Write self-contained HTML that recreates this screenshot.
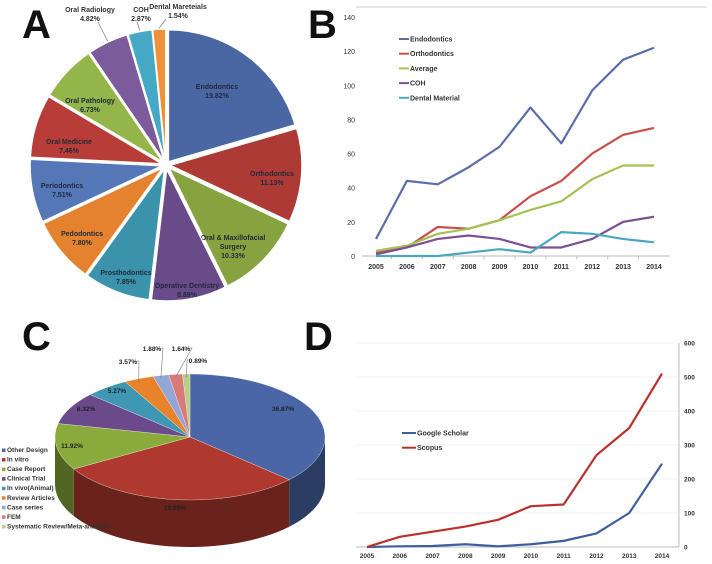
<!DOCTYPE html>
<html><head><meta charset="utf-8"><style>
body{margin:0;background:#fff;}
svg{display:block;font-family:"Liberation Sans",sans-serif;}
</style></head><body>
<svg id="fig" width="712" height="564" viewBox="0 0 712 564" xmlns="http://www.w3.org/2000/svg">
<g font-weight="bold" font-size="40" fill="#111">
<text x="22" y="38">A</text>
<text x="308" y="38">B</text>
<text x="22" y="350">C</text>
<text x="304" y="350">D</text>
</g>
<g id="pa"></g>
<g id="pb"></g>
<g id="pc"></g>
<g id="pd"></g>
</svg>
<script>
const NS="http://www.w3.org/2000/svg";
function mk(tag,attrs,parent,txt){const e=document.createElementNS(NS,tag);for(const k in attrs)e.setAttribute(k,attrs[k]);if(txt!==undefined)e.textContent=txt;parent.appendChild(e);return e;}

// ---------- Panel A data ----------
const aLabels=["Endodontics","Orthodontics","Oral & Maxillofacial Surgery","Operative Dentistry","Prosthodontics","Pedodontics","Periodontics","Oral Medicine","Oral Pathology","Oral Radiology","COH","Dental Mareteials"];
const aValues=[19.82,11.13,10.33,8.89,7.85,7.80,7.51,7.46,6.73,4.82,2.87,1.54];
const aColors=["#4a67a3","#ad3a35","#86a33f","#6a4b8a","#3a93ab","#e4822f","#5577b8","#b83c38","#93b54a","#7c5b9c","#45a9c6","#ef9138"];

// ---------- Panel B data ----------
const years=["2005","2006","2007","2008","2009","2010","2011","2012","2013","2014"];
const bTicks=[0,20,40,60,80,100,120,140];
const bNames=["Endodontics","Orthodontics","Average","COH","Dental Material"];
const bEndo=[10,44,42,52,64,87,66,97,115,122];
const bOrtho=[2,5,17,16,21,35,44,60,71,75];
const bAvg=[3,6,13,16,21,27,32,45,53,53];
const bCOH=[1,5,10,12,10,5,5,10,20,23];
const bDental=[0,0,0,2,4,2,14,13,10,8];
const bColors=["#5a6fa8","#c8504c","#a5c254","#7d4f93","#4aa7bd"];

// ---------- Panel C data ----------
const cLabels=["Other Design","In vitro","Case Report","Clinical Trial","In vivo(Animal)","Review Articles","Case series","FEM","Systematic Review/Meta-analysis"];
const cValues=[36.87,29.65,11.92,8.32,5.27,3.57,1.88,1.64,0.89];
const cColors=["#4a66a6","#b0392f","#8aab3c","#6b4a8c","#3e98b3","#e8832c","#93a7d6","#d97a78","#b6d08a"];

// ---------- Panel D data ----------
const dTicks=[0,100,200,300,400,500,600];
const dScholar=[0,2,3,8,2,8,18,40,100,245];
const dScopus=[0,30,45,60,80,120,125,270,350,510];

// ---------- Draw A ----------
(function(){
  const g=document.getElementById('pa');
  const cx=166,cy=165,r=132,ex=4;
  const tot=aValues.reduce((a,b)=>a+b,0);
  let a0=0;
  const lblPos=[[217,83],[272,170],[233,234],[187,282],[126,269],[82,230],[62,182],[69,138],[90,97],[90,6],[141,6],[178,3]];
  aValues.forEach((v,i)=>{
    const a1=a0+v/tot*2*Math.PI, m=(a0+a1)/2;
    const ox=cx+ex*Math.sin(m), oy=cy-ex*Math.cos(m);
    const p=(a)=>[ox+r*Math.sin(a),oy-r*Math.cos(a)];
    const s=p(a0),e=p(a1);
    const path=mk('path',{d:`M${ox},${oy}L${s[0]},${s[1]}A${r},${r} 0 ${a1-a0>Math.PI?1:0} 1 ${e[0]},${e[1]}Z`,fill:aColors[i],stroke:'#fff','stroke-width':1.5},g);
    
    
    const pct=v.toFixed(2)+'%';
    const [lx,ly]=lblPos[i];
    const outside=i>=9;
    const words=i===2?["Oral & Maxillofacial","Surgery",pct]:[aLabels[i],pct];
    const t=mk('text',{x:lx,y:ly+6,'font-size':7,'font-weight':'bold','text-anchor':'middle',fill:outside?'#333':'#1f2a3a'},g);
    
    
    words.forEach((w,k)=>mk('tspan',{x:lx,dy:k?9:0},t,w));
    if(outside){
      const q=p(m);
      mk('polyline',{points:`${lx+(i===9?8:i===10?-4:-12)},${ly+16} ${q[0]},${q[1]-1}`,fill:'none',stroke:'#777','stroke-width':0.7},g);
    }
    a0=a1;
  });
})();

// ---------- Draw B ----------
(function(){
  const g=document.getElementById('pb');
  const x0=376,dx=(654-376)/9,y0=256,ymax=140,h=256-17;
  const X=i=>x0+i*dx, Y=v=>y0-v/ymax*h;
  mk('line',{x1:356,y1:7,x2:707,y2:7,stroke:'#ccc','stroke-width':1},g);
  mk('line',{x1:362,y1:y0,x2:669,y2:y0,stroke:'#bbb','stroke-width':1},g);
  bTicks.forEach(t=>{const e=mk('text',{x:355,y:Y(t)+3,'font-size':7,'text-anchor':'end',fill:'#333'},g,String(t));});
  years.forEach((y,i)=>{const e=mk('text',{x:X(i),y:269,'font-size':7,'font-weight':'bold','text-anchor':'middle',fill:'#333'},g,y);
    if(i<9) mk('line',{x1:X(i)+dx/2,y1:y0,x2:X(i)+dx/2,y2:y0+3,stroke:'#bbb'},g);});
  [bEndo,bOrtho,bAvg,bCOH,bDental].forEach((s,k)=>{
    const pl=mk('polyline',{points:s.map((v,i)=>X(i)+','+Y(v)).join(' '),fill:'none',stroke:bColors[k],'stroke-width':2.2,'stroke-linejoin':'round'},g);
    
    
    const ly=39+k*14.7;
    mk('line',{x1:399,y1:ly,x2:409,y2:ly,stroke:bColors[k],'stroke-width':2},g);
    const t=mk('text',{x:410,y:ly+2.5,'font-size':7,'font-weight':'bold',fill:'#333'},g,bNames[k]);
    
  });
})();

// ---------- Draw C ----------
(function(){
  const g=document.getElementById('pc');
  const cx=190,cy=437,rx=135,ry=63,dep=47;
  const tot=cValues.reduce((a,b)=>a+b,0);
  const P=(a,dy)=>[cx+rx*Math.sin(a),cy-ry*Math.cos(a)+(dy||0)];
  const dark=c=>{const n=parseInt(c.slice(1),16);const f=0.6;return `rgb(${((n>>16)&255)*f|0},${((n>>8)&255)*f|0},${(n&255)*f|0})`;};
  const angs=[];let a0=0;
  cValues.forEach(v=>{const a1=a0+v/tot*2*Math.PI;angs.push([a0,a1]);a0=a1;});
  angs.forEach(([s,e],i)=>{
    const lo=Math.max(s,Math.PI/2),hi=Math.min(e,3*Math.PI/2);
    if(hi<=lo)return;
    const A=P(lo),B=P(hi),Bd=P(hi,dep),Ad=P(lo,dep);
    mk('path',{d:`M${A[0]},${A[1]}A${rx},${ry} 0 0 1 ${B[0]},${B[1]}L${Bd[0]},${Bd[1]}A${rx},${ry} 0 0 0 ${Ad[0]},${Ad[1]}Z`,fill:dark(cColors[i])},g);
  });
  angs.forEach(([s,e],i)=>{
    const A=P(s),B=P(e);
    const p=mk('path',{d:`M${cx},${cy}L${A[0]},${A[1]}A${rx},${ry} 0 ${e-s>Math.PI?1:0} 1 ${B[0]},${B[1]}Z`,fill:cColors[i],stroke:'#fff','stroke-width':0.3},g);
    
    
  });
  const lp=[[283,411],[175,510],[72,448],[86,411],[117,393],[128,364],[152,351],[181,351],[198,363]];
  cValues.forEach((v,i)=>{
    const [x,y]=lp[i];
    const t=mk('text',{x:x,y:y,'font-size':6.5,'font-weight':'bold','text-anchor':'middle',fill:'#222'},g,v.toFixed(2)+'%');
    
    if(i>=5){const m=(angs[i][0]+angs[i][1])/2;const q=P(m);
      mk('polyline',{points:`${x+(i===8?-9:9)},${y-3} ${x+(i===8?-11:11)},${y-3} ${q[0]},${q[1]+3}`,fill:'none',stroke:'#777','stroke-width':0.6},g);}
  });
  cLabels.forEach((l,i)=>{
    const y=452+i*9.55;
    mk('rect',{x:2,y:y-3.5,width:3.5,height:3.5,fill:cColors[i]},g);
    const t=mk('text',{x:7,y:y,'font-size':6.5,'font-weight':'bold',fill:'#333'},g,l);
    
  });
})();

// ---------- Draw D ----------
(function(){
  const g=document.getElementById('pd');
  const x0=367,dx=(662-367)/9,y0=547,ymax=600,h=547-343;
  const X=i=>x0+i*dx, Y=v=>y0-v/ymax*h;
  dTicks.forEach(t=>{
    if(t>0) mk('line',{x1:356,y1:Y(t),x2:679,y2:Y(t),stroke:'#f3f3f3'},g);
    const e=mk('text',{x:684,y:Y(t)+2.5,'font-size':6.5,'font-weight':'bold',fill:'#333'},g,String(t));
    
  });
  mk('line',{x1:356,y1:y0,x2:679,y2:y0,stroke:'#bbb'},g);
  mk('line',{x1:679,y1:343,x2:679,y2:y0,stroke:'#bbb'},g);
  years.forEach((y,i)=>{const e=mk('text',{x:X(i),y:558,'font-size':6.5,'font-weight':'bold','text-anchor':'middle',fill:'#333'},g,y);});
  const ser=[[dScholar,'#3f5f9c','Google Scholar'],[dScopus,'#b7322c','Scopus']];
  ser.forEach(([s,c,n],k)=>{
    const pl=mk('polyline',{points:s.map((v,i)=>X(i)+','+Y(v)).join(' '),fill:'none',stroke:c,'stroke-width':2.2,'stroke-linejoin':'round'},g);
    
    
    const ly=433+k*14.7;
    mk('line',{x1:402,y1:ly,x2:416,y2:ly,stroke:c,'stroke-width':2},g);
    const t=mk('text',{x:417,y:ly+2.5,'font-size':7,'font-weight':'bold',fill:'#333'},g,n);
    
  });
})();
</script>
</body></html>
